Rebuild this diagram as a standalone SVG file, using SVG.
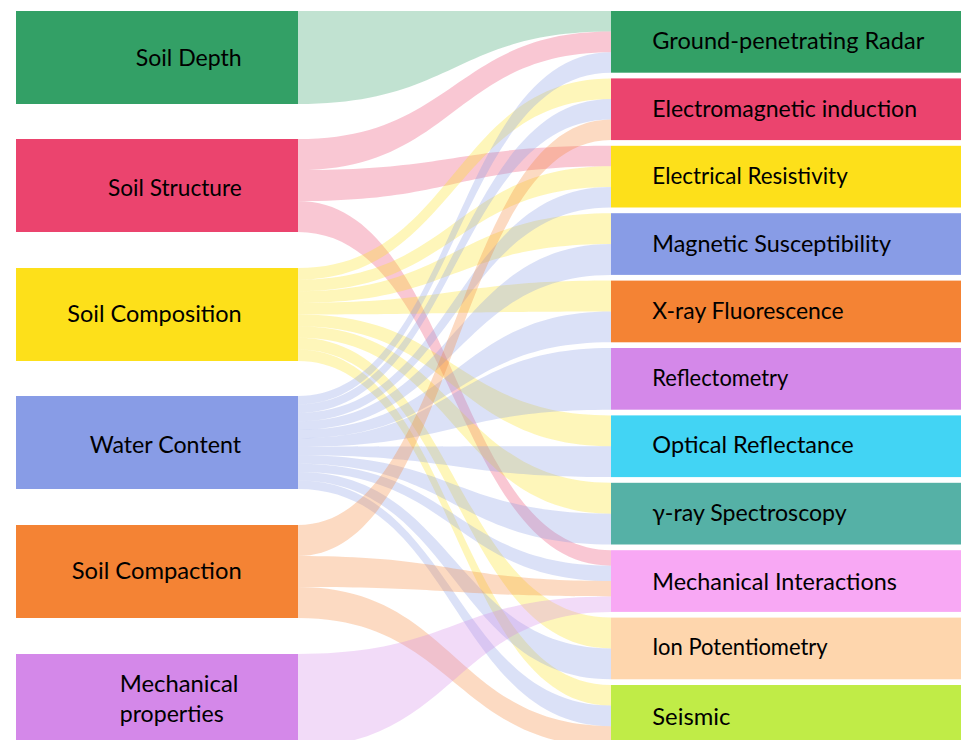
<svg xmlns="http://www.w3.org/2000/svg" width="961" height="740" viewBox="0 0 961 740">
<style>
  .lbl { font-family: Lato, "Noto Sans", "DejaVu Sans", sans-serif; font-size: 24px; fill: #000; }
  .link { stroke: none; fill-opacity: 0.3; }
  .c-green { fill: #33a066; }
  .c-red { fill: #eb446e; }
  .c-yellow { fill: #fde01a; }
  .c-blue { fill: #889ce6; }
  .c-orange { fill: #f48334; }
  .c-purple { fill: #d488e9; }
  .c-cyan { fill: #42d4f4; }
  .c-teal { fill: #55b1a6; }
  .c-pink { fill: #f8a8f4; }
  .c-peach { fill: #fed6ad; }
  .c-lime { fill: #c0ec47; }
</style>
<rect width="961" height="740" fill="#ffffff"/>
<g id="links">
  <path class="link c-green" d="M298,11 C454.5,11 454.5,11 611,11 L611,31.57 C454.5,31.57 454.5,104 298,104 Z"/>
  <path class="link c-red" d="M298,139 C454.5,139 454.5,31.57 611,31.57 L611,52.13 C454.5,52.13 454.5,170 298,170 Z"/>
  <path class="link c-red" d="M298,170 C454.5,170 454.5,145.8 611,145.8 L611,166.37 C454.5,166.37 454.5,201 298,201 Z"/>
  <path class="link c-red" d="M298,201 C454.5,201 454.5,550.2 611,550.2 L611,565.63 C454.5,565.63 454.5,232 298,232 Z"/>
  <path class="link c-yellow" d="M298,268 C454.5,268 454.5,78.4 611,78.4 L611,98.97 C454.5,98.97 454.5,279.63 298,279.63 Z"/>
  <path class="link c-yellow" d="M298,279.63 C454.5,279.63 454.5,166.37 611,166.37 L611,186.93 C454.5,186.93 454.5,291.25 298,291.25 Z"/>
  <path class="link c-yellow" d="M298,291.25 C454.5,291.25 454.5,213.2 611,213.2 L611,244.05 C454.5,244.05 454.5,302.88 298,302.88 Z"/>
  <path class="link c-yellow" d="M298,302.88 C454.5,302.88 454.5,280.6 611,280.6 L611,311.45 C454.5,311.45 454.5,314.5 298,314.5 Z"/>
  <path class="link c-yellow" d="M298,314.5 C454.5,314.5 454.5,415.4 611,415.4 L611,446.25 C454.5,446.25 454.5,326.13 298,326.13 Z"/>
  <path class="link c-yellow" d="M298,326.13 C454.5,326.13 454.5,482.8 611,482.8 L611,513.65 C454.5,513.65 454.5,337.75 298,337.75 Z"/>
  <path class="link c-yellow" d="M298,337.75 C454.5,337.75 454.5,617.6 611,617.6 L611,648.45 C454.5,648.45 454.5,349.38 298,349.38 Z"/>
  <path class="link c-yellow" d="M298,349.38 C454.5,349.38 454.5,685 611,685 L611,705.57 C454.5,705.57 454.5,361 298,361 Z"/>
  <path class="link c-blue" d="M298,396 C454.5,396 454.5,52.13 611,52.13 L611,72.7 C454.5,72.7 454.5,404.45 298,404.45 Z"/>
  <path class="link c-blue" d="M298,404.45 C454.5,404.45 454.5,98.97 611,98.97 L611,119.53 C454.5,119.53 454.5,412.91 298,412.91 Z"/>
  <path class="link c-blue" d="M298,412.91 C454.5,412.91 454.5,186.93 611,186.93 L611,207.5 C454.5,207.5 454.5,421.36 298,421.36 Z"/>
  <path class="link c-blue" d="M298,421.36 C454.5,421.36 454.5,244.05 611,244.05 L611,274.9 C454.5,274.9 454.5,429.82 298,429.82 Z"/>
  <path class="link c-blue" d="M298,429.82 C454.5,429.82 454.5,311.45 611,311.45 L611,342.3 C454.5,342.3 454.5,438.27 298,438.27 Z"/>
  <path class="link c-blue" d="M298,438.27 C454.5,438.27 454.5,348 611,348 L611,409.7 C454.5,409.7 454.5,446.73 298,446.73 Z"/>
  <path class="link c-blue" d="M298,446.73 C454.5,446.73 454.5,446.25 611,446.25 L611,477.1 C454.5,477.1 454.5,455.18 298,455.18 Z"/>
  <path class="link c-blue" d="M298,455.18 C454.5,455.18 454.5,513.65 611,513.65 L611,544.5 C454.5,544.5 454.5,463.64 298,463.64 Z"/>
  <path class="link c-blue" d="M298,463.64 C454.5,463.64 454.5,565.63 611,565.63 L611,581.05 C454.5,581.05 454.5,472.09 298,472.09 Z"/>
  <path class="link c-blue" d="M298,472.09 C454.5,472.09 454.5,648.45 611,648.45 L611,679.3 C454.5,679.3 454.5,480.55 298,480.55 Z"/>
  <path class="link c-blue" d="M298,480.55 C454.5,480.55 454.5,705.57 611,705.57 L611,726.13 C454.5,726.13 454.5,489 298,489 Z"/>
  <path class="link c-orange" d="M298,525 C454.5,525 454.5,119.53 611,119.53 L611,140.1 C454.5,140.1 454.5,556 298,556 Z"/>
  <path class="link c-orange" d="M298,556 C454.5,556 454.5,581.05 611,581.05 L611,596.48 C454.5,596.48 454.5,587 298,587 Z"/>
  <path class="link c-orange" d="M298,587 C454.5,587 454.5,726.13 611,726.13 L611,746.7 C454.5,746.7 454.5,618 298,618 Z"/>
  <path class="link c-purple" d="M298,654 C454.5,654 454.5,596.48 611,596.48 L611,611.9 C454.5,611.9 454.5,747 298,747 Z"/>
</g>
<g id="node-soil-depth">
  <rect class="c-green" x="16" y="11" width="282" height="93"/>
  <text class="lbl" x="135.7" y="65.5" textLength="106" lengthAdjust="spacingAndGlyphs">Soil Depth</text>
</g>
<g id="node-soil-structure">
  <rect class="c-red" x="16" y="139" width="282" height="93"/>
  <text class="lbl" x="108" y="196" textLength="133.7" lengthAdjust="spacingAndGlyphs">Soil Structure</text>
</g>
<g id="node-soil-composition">
  <rect class="c-yellow" x="16" y="268" width="282" height="93"/>
  <text class="lbl" x="67.3" y="322.3" textLength="174.4" lengthAdjust="spacingAndGlyphs">Soil Composition</text>
</g>
<g id="node-water-content">
  <rect class="c-blue" x="16" y="396" width="282" height="93"/>
  <text class="lbl" x="89.7" y="452.7" textLength="151.3" lengthAdjust="spacingAndGlyphs">Water Content</text>
</g>
<g id="node-soil-compaction">
  <rect class="c-orange" x="16" y="525" width="282" height="93"/>
  <text class="lbl" x="71.7" y="579.3" textLength="170" lengthAdjust="spacingAndGlyphs">Soil Compaction</text>
</g>
<g id="node-mechanical-properties">
  <rect class="c-purple" x="16" y="654" width="282" height="93"/>
  <text class="lbl" x="119.7" y="691.7" textLength="118.7" lengthAdjust="spacingAndGlyphs">Mechanical</text>
  <text class="lbl" x="119.7" y="721.7" textLength="104" lengthAdjust="spacingAndGlyphs">properties</text>
</g>
<g id="node-gpr">
  <rect class="c-green" x="611" y="11" width="350" height="61.7"/>
  <text class="lbl" x="652.3" y="49.3" textLength="272" lengthAdjust="spacingAndGlyphs">Ground-penetrating Radar</text>
</g>
<g id="node-emi">
  <rect class="c-red" x="611" y="78.4" width="350" height="61.7"/>
  <text class="lbl" x="652.3" y="116.7" textLength="264.7" lengthAdjust="spacingAndGlyphs">Electromagnetic induction</text>
</g>
<g id="node-er">
  <rect class="c-yellow" x="611" y="145.8" width="350" height="61.7"/>
  <text class="lbl" x="652.3" y="184" textLength="195.4" lengthAdjust="spacingAndGlyphs">Electrical Resistivity</text>
</g>
<g id="node-ms">
  <rect class="c-blue" x="611" y="213.2" width="350" height="61.7"/>
  <text class="lbl" x="652.3" y="251.7" textLength="238.7" lengthAdjust="spacingAndGlyphs">Magnetic Susceptibility</text>
</g>
<g id="node-xrf">
  <rect class="c-orange" x="611" y="280.6" width="350" height="61.7"/>
  <text class="lbl" x="652.3" y="319" textLength="191.4" lengthAdjust="spacingAndGlyphs">X-ray Fluorescence</text>
</g>
<g id="node-reflectometry">
  <rect class="c-purple" x="611" y="348" width="350" height="61.7"/>
  <text class="lbl" x="652.3" y="386" textLength="136" lengthAdjust="spacingAndGlyphs">Reflectometry</text>
</g>
<g id="node-optical">
  <rect class="c-cyan" x="611" y="415.4" width="350" height="61.7"/>
  <text class="lbl" x="652.3" y="452.7" textLength="201.4" lengthAdjust="spacingAndGlyphs">Optical Reflectance</text>
</g>
<g id="node-gamma">
  <rect class="c-teal" x="611" y="482.8" width="350" height="61.7"/>
  <text class="lbl" x="652.3" y="520.7" textLength="194.4" lengthAdjust="spacingAndGlyphs">γ-ray Spectroscopy</text>
</g>
<g id="node-mech-interactions">
  <rect class="c-pink" x="611" y="550.2" width="350" height="61.7"/>
  <text class="lbl" x="652.3" y="590" textLength="244.7" lengthAdjust="spacingAndGlyphs">Mechanical Interactions</text>
</g>
<g id="node-ion">
  <rect class="c-peach" x="611" y="617.6" width="350" height="61.7"/>
  <text class="lbl" x="652.3" y="655" textLength="175.4" lengthAdjust="spacingAndGlyphs">Ion Potentiometry</text>
</g>
<g id="node-seismic">
  <rect class="c-lime" x="611" y="685" width="350" height="61.7"/>
  <text class="lbl" x="652.3" y="725" textLength="78" lengthAdjust="spacingAndGlyphs">Seismic</text>
</g>
</svg>
